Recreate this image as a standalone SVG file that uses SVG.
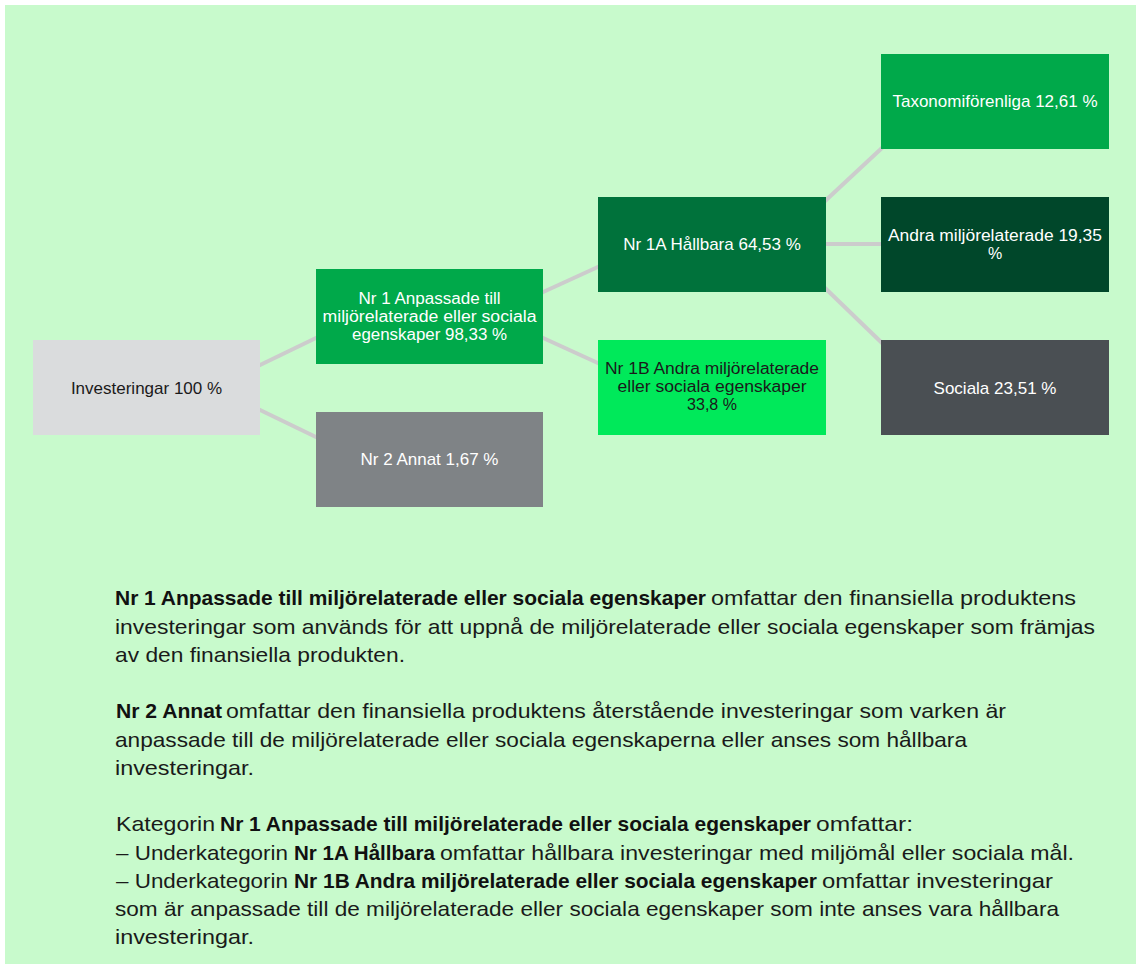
<svg xmlns="http://www.w3.org/2000/svg" width="1140" height="964" viewBox="0 0 1140 964">
<style>
.node rect{stroke:none}
.nt{font-family:"Liberation Sans",Arial,sans-serif;font-size:17px;text-anchor:middle}
.ml{font-size:16px}
.lt{fill:#ffffff}
.dt{fill:#1a1a1a}
.conn line{stroke:#cccccc;stroke-width:4;stroke-linecap:butt}
.b{font-family:"Liberation Sans",Arial,sans-serif;font-size:21px;fill:#1a1a1a}
.bb{font-family:"Liberation Sans",Arial,sans-serif;font-size:21px;font-weight:bold;fill:#111111}
</style>
<rect x="0" y="0" width="1140" height="964" fill="#ffffff"/>
<rect x="5" y="5" width="1131" height="959" fill="#c8facc"/>
<g id="connectors" class="conn">
<line x1="258" y1="366" x2="318" y2="337"/>
<line x1="258" y1="409" x2="318" y2="438"/>
<line x1="541" y1="293" x2="600" y2="266"/>
<line x1="541" y1="337" x2="600" y2="364"/>
<line x1="824" y1="202" x2="883" y2="147"/>
<line x1="824" y1="244" x2="883" y2="244"/>
<line x1="824" y1="287" x2="883" y2="344"/>
</g>
<g id="node-investeringar" class="node">
<rect x="33" y="340" width="227" height="95" fill="#dadcdd"/>
<text class="nt dt" x="146.5" y="393.5">Investeringar 100 %</text>
</g>
<g id="node-nr1" class="node">
<rect x="316" y="269" width="227" height="95" fill="#00a94a"/>
<text class="nt ml lt" x="429.5" y="303.5" textLength="142" lengthAdjust="spacingAndGlyphs">Nr 1 Anpassade till</text>
<text class="nt ml lt" x="429.5" y="321.5" textLength="214" lengthAdjust="spacingAndGlyphs">miljörelaterade eller sociala</text>
<text class="nt ml lt" x="429.5" y="339.5" textLength="155" lengthAdjust="spacingAndGlyphs">egenskaper 98,33 %</text>
</g>
<g id="node-nr2" class="node">
<rect x="316" y="412" width="227" height="95" fill="#7f8386"/>
<text class="nt lt" x="429.5" y="464.5">Nr 2 Annat 1,67 %</text>
</g>
<g id="node-nr1a" class="node">
<rect x="598" y="197" width="228" height="95" fill="#00723b"/>
<text class="nt lt" x="712" y="249.5">Nr 1A Hållbara 64,53 %</text>
</g>
<g id="node-nr1b" class="node">
<rect x="598" y="340" width="228" height="95" fill="#00e95a"/>
<text class="nt ml dt" x="712" y="374" textLength="214" lengthAdjust="spacingAndGlyphs">Nr 1B Andra miljörelaterade</text>
<text class="nt ml dt" x="712" y="392" textLength="189" lengthAdjust="spacingAndGlyphs">eller sociala egenskaper</text>
<text class="nt ml dt" x="712" y="410">33,8 %</text>
</g>
<g id="node-taxonomi" class="node">
<rect x="881" y="54" width="228" height="95" fill="#00a94a"/>
<text class="nt lt" x="995" y="106.5">Taxonomiförenliga 12,61 %</text>
</g>
<g id="node-andra" class="node">
<rect x="881" y="197" width="228" height="95" fill="#00472a"/>
<text class="nt ml lt" x="995" y="240.5" textLength="214" lengthAdjust="spacingAndGlyphs">Andra miljörelaterade 19,35</text>
<text class="nt ml lt" x="995" y="258.5">%</text>
</g>
<g id="node-sociala" class="node">
<rect x="881" y="340" width="228" height="95" fill="#4a4f53"/>
<text class="nt lt" x="995" y="393.5">Sociala 23,51 %</text>
</g>
<g id="description">
<text class="bb" x="115" y="605" textLength="591" lengthAdjust="spacingAndGlyphs">Nr 1 Anpassade till miljörelaterade eller sociala egenskaper</text>
<text class="b" x="711" y="605" textLength="365" lengthAdjust="spacingAndGlyphs">omfattar den finansiella produktens</text>
<text class="b" x="115" y="633.5" textLength="980" lengthAdjust="spacingAndGlyphs">investeringar som används för att uppnå de miljörelaterade eller sociala egenskaper som främjas</text>
<text class="b" x="115" y="661.5" textLength="290" lengthAdjust="spacingAndGlyphs">av den finansiella produkten.</text>
<text class="bb" x="116" y="718" textLength="106" lengthAdjust="spacingAndGlyphs">Nr 2 Annat</text>
<text class="b" x="226" y="718" textLength="780" lengthAdjust="spacingAndGlyphs">omfattar den finansiella produktens återstående investeringar som varken är</text>
<text class="b" x="115" y="746.5" textLength="852" lengthAdjust="spacingAndGlyphs">anpassade till de miljörelaterade eller sociala egenskaperna eller anses som hållbara</text>
<text class="b" x="115" y="774.5" textLength="139" lengthAdjust="spacingAndGlyphs">investeringar.</text>
<text class="b" x="116" y="831" textLength="99" lengthAdjust="spacingAndGlyphs">Kategorin</text>
<text class="bb" x="220" y="831" textLength="591" lengthAdjust="spacingAndGlyphs">Nr 1 Anpassade till miljörelaterade eller sociala egenskaper</text>
<text class="b" x="816" y="831" textLength="97" lengthAdjust="spacingAndGlyphs">omfattar:</text>
<text class="b" x="116" y="859.5" textLength="172" lengthAdjust="spacingAndGlyphs">– Underkategorin</text>
<text class="bb" x="294" y="859.5" textLength="141" lengthAdjust="spacingAndGlyphs">Nr 1A Hållbara</text>
<text class="b" x="440" y="859.5" textLength="634" lengthAdjust="spacingAndGlyphs">omfattar hållbara investeringar med miljömål eller sociala mål.</text>
<text class="b" x="116" y="887.5" textLength="172" lengthAdjust="spacingAndGlyphs">– Underkategorin</text>
<text class="bb" x="294" y="887.5" textLength="523" lengthAdjust="spacingAndGlyphs">Nr 1B Andra miljörelaterade eller sociala egenskaper</text>
<text class="b" x="822" y="887.5" textLength="231" lengthAdjust="spacingAndGlyphs">omfattar investeringar</text>
<text class="b" x="115" y="915.5" textLength="944" lengthAdjust="spacingAndGlyphs">som är anpassade till de miljörelaterade eller sociala egenskaper som inte anses vara hållbara</text>
<text class="b" x="115" y="943.5" textLength="139" lengthAdjust="spacingAndGlyphs">investeringar.</text>
</g>
</svg>
